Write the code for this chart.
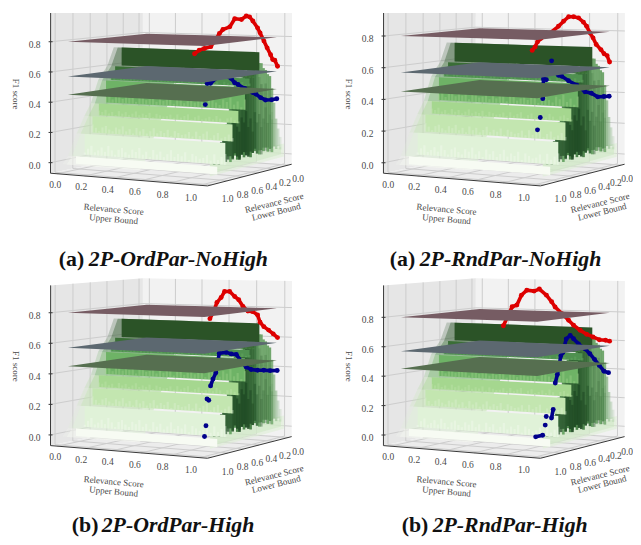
import numpy as np, pandas as pd, altair as alt

# ---------- chart values ----------
TICKS = [0.0, 0.2, 0.4, 0.6, 0.8, 1.0]
F1_TICKS = [0.0, 0.2, 0.4, 0.6, 0.8]
PLANE_Z = [0.80, 0.57, 0.45]
PLANE_C = ["#765c63", "#5c6870", "#566f50"]

# surface: lower-bound row, F1 at the row, colour of the strip ending at the row
row_l = [0.90, 0.84, 0.74, 0.65, 0.575, 0.49, 0.43, 0.38, 0.30]
row_z = [-0.03, 0.02, 0.16, 0.27, 0.35, 0.50, 0.55, 0.59, 0.715]
row_c = ["#f7fbf3", "#e0f2d8", "#c3e6b0", "#a5d78f", "#6eb366", "#4f9150", "#3a6e36", "#2b5327"]
jag = [.5,.8,.3,.9,.4,.7,1.,.2,.6,.9,.3,.5,.8,.4,1.,.6,.2,.7,.9,.5,.3,.8,.6,1.,.4,.7,.2,.9,.5,.8,.3,.6,1.,.4,.7,.5,.9,.2,.8,.6,.4]

# side of the surface towards the lower-bound axis
side_l = [.86,.83,.80,.77,.74,.71,.68,.65,.62,.59,.56,.53,.50,.47,.44,.41,.38,.35,.32,.29,.26,.23,.20,.17,.14,.11,.08,.05,.02,-.01,-.04]
side_z = [.04,.08,.12,.17,.20,.28,.33,.40,.50,.52,.54,.55,.56,.58,.60,.62,.64,.66,.687,.665,.643,.64,.605,.59,.56,.545,.46,.36,.25,.18,.12]
side_c = ["#5f9f5c"]*8 + ["#3d7a3c"]*11 + ["#649f5f"]*12
side_o = [.6,.65,.7,.75,.8,.85,.9,.9] + [.9]*18 + [.75,.55,.4,.25,.15]
dark_o = [.1,.15,.2,.25,.3,.3,.35,.4,.4,.5,.6,.7,.8,.75,.8,.7,.6,.45,.35,.3,.15,.25,.1,.2,.1,.15,.05,0,0,0,0]
dark_z = [.04,.08,.12,.17,.20,.28,.33,.40,.50,.50,.52,.53,.54,.55,.57,.58,.60,.60,.60,.60,.55,.50,.45,.50,.40,.45,.30,0,0,0,0]
low_o = [.3,.4,.5,.6,.6,.6,.6,.6,.6,.7,.75,.8,.8,.8,.75,.7,.6,.5,.4,.3,.25,.2,.2,.15,.15,.1,.1,0,0,0,0]

red_l = [
 [0,.04,.07,.10,.15,.195,.25,.285,.35,.395,.44,.505,.595,.66,.75,.795,.905,.985,1.05,1.107],
 [.013,.049,.093,.138,.204,.249,.293,.338,.382,.449,.516,.582,.649,.716,.827,.938,.982,1.013,1.049],
 [0,.062,.129,.196,.249,.284,.351,.418,.484,.542,.596,.662,.729,.773,.827,.862,.916],
 [.013,.071,.16,.249,.338,.427,.516,.582,.671,.76,.804,.871,.96,1.027,1.116,1.182,1.236,1.293,1.396]]
red_f = [
 [.603,.647,.653,.688,.737,.785,.843,.878,.927,.956,.964,.944,.953,.904,.891,.868,.791,.784,.778,.759],
 [.604,.648,.663,.692,.728,.773,.807,.851,.879,.909,.919,.922,.897,.869,.833,.807,.789,.76,.741],
 [.603,.632,.662,.689,.721,.771,.797,.805,.838,.884,.908,.943,.946,.91,.882,.835,.785],
 [.603,.614,.624,.649,.674,.707,.747,.784,.834,.883,.919,.966,1.01,1.0,1.01,.981,.922,.914,.801]]
blue_l = [
 [.01,.085,.173,.24,.307,.35,.46,.55,.595,.64,.73,.82,.907,.95,.973],
 [.018,.093,.182,.271,.36,.471,.582,.671,.716,.804,.871,.907,.916,.947,.982],
 [.004,.107,.196,.284,.373,.44,.498,.573,.64,.707,.796,.84,.876,.907,.929,.951,.964,.982],
 [.027,.093,.16,.227,.293,.36,.449,.516,.56,.613,.658,.684,.729,.756,.782,.804,.871,.884,.916,1.004]]
blue_f = [
 [.384,.384,.39,.411,.441,.454,.49,.523,.538,.569,.597,.592,.559,.561,.43],
 [.384,.388,.393,.423,.44,.489,.525,.559,.569,.663,.553,.56,.442,.331,.26],
 [.383,.391,.401,.408,.421,.442,.478,.534,.543,.558,.559,.439,.403,.363,.275,.286,.12,.055],
 [.385,.401,.447,.494,.538,.577,.617,.656,.681,.662,.575,.555,.435,.382,.211,.157,.175,.12,.058,.058]]
blue_breaks = [{14}, {9, 10, 13, 14}, {14, 16, 17}, {14, 16, 17, 18}]
LABEL = ["(a)", "(a)", "(b)", "(b)"]
NAME = ["2P-OrdPar-NoHigh", "2P-RndPar-NoHigh", "2P-OrdPar-High", "2P-RndPar-High"]
ZLIM = [(-.07, .99), (-.066, .945), (-.07, .979), (-.072, 1.017)]

# ---------- layout ----------
W, H = 625, 529
OX, OY = 8, 8
SHIFT = [(0, 0), (334, 0), (0, 275.5), (334, 275.5)]
TITLE_X = [(59, 89), (391, 421), (72, 102), (403, 434)]
TITLE_Y = [257, 257, 526, 526]
FONT = "Liberation Serif"
TITLE_SIZE = 21.8
TXT = "#4a4a4a"

# camera of the 3-D box, normalised box corners to picture
cam_pts = [(0,1,0,51,170),(0,1,1,51,7.5),(0,0,1,143,1),(0,0,0,143,150.7),
           (1,1,0,207.5,183.5),(1,0,0,293,160),(1,0,1,293,4)]
A, B = [], []
for a, b, c, px, py in cam_pts:
    A.append([a,b,c,1,0,0,0,0,-a*px,-b*px,-c*px]); B.append(px)
    A.append([0,0,0,0,a,b,c,1,-a*py,-b*py,-c*py]); B.append(py)
P = np.linalg.lstsq(np.array(A,float), np.array(B,float), rcond=None)[0]

store = {k: [] for k in "pane grid fringe soft side dark band streak red blue plane ax tl ub lb f1 t0 t1".split()}


def add_panel(i):
    zb, zt = ZLIM[i]
    sx, sy = SHIFT[i]
    right = i in (1, 3)

    def pr(u, l, z):
        a, b, c = (u+.05)/1.1, (l+.05)/1.1, (z-zb)/(zt-zb)
        w = P[8]*a+P[9]*b+P[10]*c+1
        return ((P[0]*a+P[1]*b+P[2]*c+P[3])/w + sx - OX,
                (P[4]*a+P[5]*b+P[6]*c+P[7])/w + sy - OY)

    gid = [i*1000]

    def poly(key, pts, color, op=1.0):
        xs = sorted({round(p[0], 2) for p in pts})
        n = len(pts)
        for x in xs:
            ys = []
            for j in range(n):
                (x0, y0), (x1, y1) = pts[j], pts[(j+1) % n]
                x0r, x1r = round(x0, 2), round(x1, 2)
                if min(x0r, x1r) <= x <= max(x0r, x1r):
                    if x0r == x1r:
                        ys += [y0, y1]
                    else:
                        ys.append(y0+(y1-y0)*(x-x0r)/(x1r-x0r))
            store[key].append(dict(x=x, y=max(min(ys), 0), y2=max(max(ys), 0), g=gid[0], c=color, o=op))
        gid[0] += 1

    lo, hi = -.05, 1.05
    # panes
    poly("pane", [pr(lo,lo,zb),pr(lo,hi,zb),pr(lo,hi,zt),pr(lo,lo,zt)], "#e6e6e6")
    poly("pane", [pr(lo,lo,zb),pr(hi,lo,zb),pr(hi,lo,zt),pr(lo,lo,zt)], "#f2f2f2")
    poly("pane", [pr(lo,hi,zb),pr(hi,hi,zb),pr(hi,lo,zb),pr(lo,lo,zb)], "#ececec")

    # grid
    def seg(key, a, b):
        store[key].append(dict(x=a[0], y=max(a[1],0), x2=b[0], y2=max(b[1],0)))
    for t in TICKS:
        seg("grid", pr(lo,t,zb), pr(lo,t,zt)); seg("grid", pr(t,lo,zb), pr(t,lo,zt))
        seg("grid", pr(t,hi,zb), pr(t,lo,zb)); seg("grid", pr(lo,t,zb), pr(hi,t,zb))
    for z in F1_TICKS:
        seg("grid", pr(lo,hi,z), pr(lo,lo,z)); seg("grid", pr(lo,lo,z), pr(hi,lo,z))

    dl = lambda v: .051 + .962*v   # curve/side abscissa on the u=1 edge

    # soft floor fringe below the surface
    poly("fringe", [pr(1,.93,-.03),pr(1,-.04,-.02),pr(1,-.04,.07),pr(1,.93,.07)], "#dcefd4", .55)
    poly("fringe", [pr(1,.93,-.015),pr(1,.0,.0),pr(1,.0,.05),pr(1,.93,.05)], "#cfe8c5", .6)

    # side columns
    for j, (l, z, c, o, dz, d, lw) in enumerate(zip(side_l, side_z, side_c, side_o, dark_z, dark_o, low_o)):
        bot = .02 + .05*jag[j]
        a, b = pr(1, dl(l), z), pr(1, dl(l), bot)
        store["side"].append(dict(x=a[0], y=a[1], y2=b[1], c=c, o=o))
        if d > 0:
            bot2 = .02 + .06*jag[j+5]
            a, b = pr(1, dl(l), dz), pr(1, dl(l), bot2)
            store["dark"].append(dict(x=a[0], y=a[1], y2=b[1], c="#26552a", o=d))
            a2 = pr(1, dl(l), min(.16+.18*jag[j+9], dz))
            store["dark"].append(dict(x=a2[0], y=a2[1], y2=b[1], c="#1f4a24", o=lw))

    # surface strips: soft slanted left edge, then a flat face per row
    for k in range(len(row_c)):
        l0, l1, z0, z1 = row_l[k], row_l[k+1], row_z[k], row_z[k+1]
        for ua, op in ((-.06, .22), (-.03, .38)):
            poly("soft", [pr(ua,l0,z0),pr(.5,l0,z0),pr(.5,l1,z1),pr(ua,l1,z1)], row_c[k], op)
    for k in range(len(row_c)):
        l1, z0, z1 = row_l[k+1], row_z[k], row_z[k+1]
        poly("band", [pr(0,l1,z0),pr(1,l1,z0),pr(1,l1,z1),pr(0,l1,z1)], row_c[k])

    # streaks where one strip runs into the next
    for k in range(1, len(row_c)-1):
        l1, z0, z1 = row_l[k+1], row_z[k], row_z[k+1]
        for j, v in enumerate(jag):
            u = j*.025
            t = .5*jag[(j+k*7) % len(jag)]
            a = pr(u, l1, z0); b = pr(u, l1, z0+(z1-z0)*t)
            store["streak"].append(dict(x=a[0], y=b[1], y2=a[1], c=row_c[k-1], o=.35))

    # curves
    def curve(key, ls, fs, breaks=frozenset()):
        s = i*100
        for j, (l, f) in enumerate(zip(ls, fs)):
            if j in breaks:
                s += 1
            x, y = pr(1, dl(l), f)
            store[key].append(dict(x=x, y=y, s=s, idx=j))
    curve("red", red_l[i], red_f[i])
    curve("blue", blue_l[i], blue_f[i], blue_breaks[i])

    # threshold planes
    for z, c in zip(PLANE_Z, PLANE_C):
        poly("plane", [pr(.045,1,z),pr(1,1,z),pr(1,.06,z),pr(.045,.06,z)], c)

    # axis lines and ticks
    seg("ax", pr(lo,hi,zb), pr(lo,hi,zt)); seg("ax", pr(lo,hi,zb), pr(hi,hi,zb)); seg("ax", pr(hi,hi,zb), pr(hi,lo,zb))
    for z in F1_TICKS:
        p = pr(lo,hi,z); seg("ax", (p[0]-2,p[1]), (p[0]+2,p[1]))

    # tick labels
    for z in F1_TICKS:
        p = pr(lo,hi,z); store["tl"].append(dict(x=p[0]-16, y=p[1]+3, t=f"{z:.1f}"))
    for t in TICKS:
        p = pr(t,hi,zb); store["tl"].append(dict(x=p[0]-2-7*t, y=p[1]+11+1.5*t, t=f"{t:.1f}"))
        p = pr(hi,t,zb)
        nudge = (-4 if t == 0 else (-2 if t == .2 else 0)) if right else 0
        store["tl"].append(dict(x=p[0]+10+6*t+nudge, y=p[1]+14.5, t=f"{t:.1f}"))
    ox, oy = OX, OY
    store["ub"] += [dict(x=114+sx-ox, y=206.5+sy-oy, t="Relevance Score"), dict(x=114+sx-ox, y=216.5+sy-oy, t="Upper Bound")]
    nudge = -7 if right else 0
    store["lb"] += [dict(x=275+sx-ox+nudge, y=200+sy-oy, t="Relevance Score"), dict(x=277+sx-ox+nudge, y=209+sy-oy, t="Lower Bound")]
    store["f1"].append(dict(x=15.7+sx-ox, y=90+sy-oy, t="F1 score"))
    store["t0"].append(dict(x=TITLE_X[i][0]-ox, y=TITLE_Y[i]-oy, t=LABEL[i]))
    store["t1"].append(dict(x=TITLE_X[i][1]-ox, y=TITLE_Y[i]-oy, t=NAME[i]))


for i in range(4):
    add_panel(i)
df = {k: pd.DataFrame(v) for k, v in store.items()}

X = alt.X("x:Q", scale=alt.Scale(domain=[0, W], nice=False, zero=False), axis=None)
Y = alt.Y("y:Q", scale=alt.Scale(domain=[H, 0], nice=False, zero=False), axis=None)
col = alt.Color("c:N", scale=None)
opa = alt.Opacity("o:Q", scale=None)


def area(d):
    return alt.Chart(d).mark_area(interpolate="linear").encode(
        x=X, y=Y, y2="y2:Q", detail="g:N", color=col, opacity=opa)


def rule(d, w):
    return alt.Chart(d).mark_rule(strokeWidth=w).encode(x=X, y=Y, y2="y2:Q", color=col, opacity=opa)


def lines(d, color, w):
    return alt.Chart(d).mark_rule(color=color, strokeWidth=w).encode(x=X, y=Y, x2="x2:Q", y2="y2:Q")


def dots(d, color):
    return [alt.Chart(d).mark_line(color=color, strokeWidth=3.6).encode(x=X, y=Y, detail="s:N", order="idx:Q"),
            alt.Chart(d).mark_circle(color=color, size=24, opacity=1).encode(x=X, y=Y)]


def text(d, size, angle=0, **kw):
    return alt.Chart(d).mark_text(font=FONT, fontSize=size, angle=angle, **kw).encode(x=X, y=Y, text="t:N")


layers = [area(df["pane"]), lines(df["grid"], "#cdcdcd", 1), area(df["fringe"]), area(df["soft"]),
          rule(df["side"], 2.6), rule(df["dark"], 2.4), area(df["band"]), rule(df["streak"], 2.2)]
layers += dots(df["blue"], "#00008b") + dots(df["red"], "#dd0000")
layers += [area(df["plane"]), lines(df["ax"], "#3a3a3a", 1),
           text(df["tl"], 9.5, color=TXT), text(df["ub"], 9, 5, color=TXT),
           text(df["lb"], 9, 346, color=TXT), text(df["f1"], 9, 90, color=TXT),
           text(df["t0"], TITLE_SIZE, fontWeight="bold", align="left", color="#111"),
           text(df["t1"], TITLE_SIZE, fontWeight="bold", fontStyle="italic", align="left", color="#111")]

chart = alt.layer(*layers).properties(
    width=W, height=H, padding=0,
    autosize=alt.AutoSizeParams(type="fit", contains="padding")
).configure_view(strokeWidth=0)
chart.save("out.html", embed_options={"renderer": "svg", "actions": False})
